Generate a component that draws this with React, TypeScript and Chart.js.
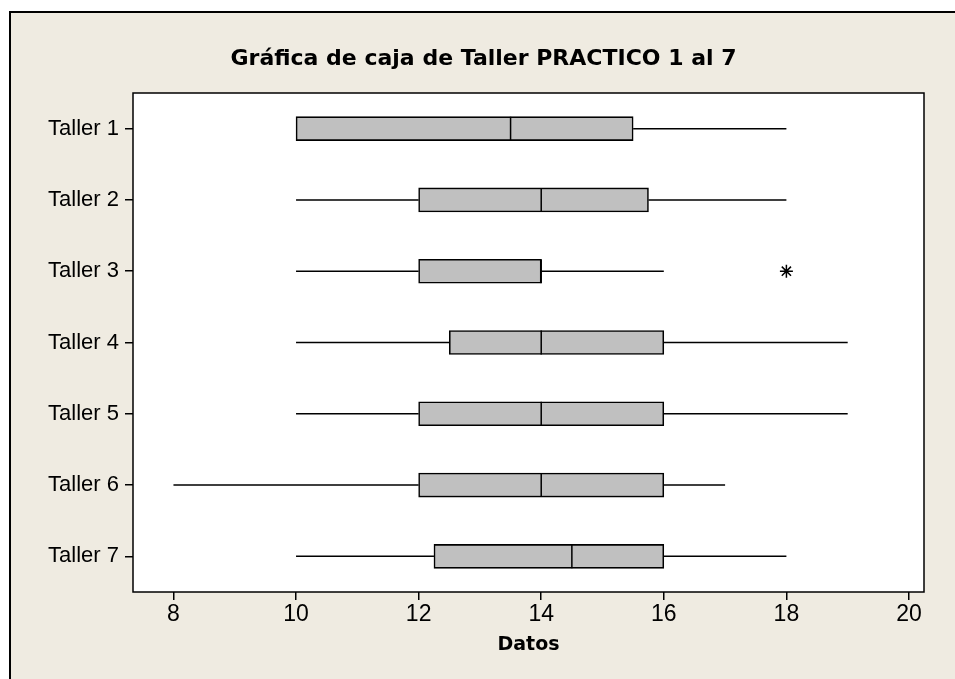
import React, { useEffect, useRef } from 'react';
import { Chart, registerables } from 'chart.js';

Chart.register(...registerables);

const CATEGORIES = ['Taller 1', 'Taller 2', 'Taller 3', 'Taller 4', 'Taller 5', 'Taller 6', 'Taller 7'];
const MINS = [10, 10, 10, 10, 10, 8, 10];
const Q1S = [10, 12, 12, 12.5, 12, 12, 12.25];
const MEDIANS = [13.5, 14, 14, 14, 14, 14, 14.5];
const Q3S = [15.5, 15.75, 14, 16, 16, 16, 16];
const MAXS = [18, 18, 16, 19, 19, 17, 18];
const OUTLIER_CATS = ['Taller 3'];
const OUTLIER_VALUES = [18];
const X_TICKS = [8, 10, 12, 14, 16, 18, 20];
const X_MIN = 7.34;
const X_MAX = 20.245;

const TITLE = 'Gráfica de caja de Taller PRACTICO 1 al 7';
const X_TITLE = 'Datos';
const BG = '#EFEBE1';

const boxPlugin = {
  id: 'boxFrame',
  beforeDraw(chart: any) {
    const { ctx, chartArea } = chart;
    ctx.save();
    ctx.fillStyle = '#ffffff';
    ctx.fillRect(chartArea.left, chartArea.top, chartArea.right - chartArea.left, chartArea.bottom - chartArea.top);
    ctx.restore();
  },
  afterDatasetsDraw(chart: any) {
    const { ctx } = chart;
    const xs = chart.scales.x;
    const ys = chart.scales.y;
    const meta = chart.getDatasetMeta(0);
    ctx.save();
    ctx.strokeStyle = '#000';
    ctx.lineWidth = 1.5;
    for (let i = 0; i < CATEGORIES.length; i++) {
      const y = ys.getPixelForValue(i);
      const el: any = meta.data[i];
      const half = el ? el.height / 2 : 12;
      ctx.beginPath();
      if (MINS[i] < Q1S[i]) {
        ctx.moveTo(xs.getPixelForValue(MINS[i]), y);
        ctx.lineTo(xs.getPixelForValue(Q1S[i]), y);
      }
      if (MAXS[i] > Q3S[i]) {
        ctx.moveTo(xs.getPixelForValue(Q3S[i]), y);
        ctx.lineTo(xs.getPixelForValue(MAXS[i]), y);
      }
      const mx = xs.getPixelForValue(MEDIANS[i]);
      ctx.moveTo(mx, y - half);
      ctx.lineTo(mx, y + half);
      ctx.stroke();
    }
    ctx.restore();
  },
  afterDraw(chart: any) {
    const { ctx, chartArea } = chart;
    ctx.save();
    ctx.strokeStyle = '#000';
    ctx.lineWidth = 1.5;
    ctx.strokeRect(chartArea.left, chartArea.top, chartArea.right - chartArea.left, chartArea.bottom - chartArea.top);
    ctx.restore();
  },
};

export default function App() {
  const ref = useRef<HTMLCanvasElement>(null);

  useEffect(() => {
    if (!ref.current) return;
    const chart = new Chart(ref.current, {
      type: 'bar',
      data: {
        labels: CATEGORIES,
        datasets: [
          {
            type: 'bar',
            data: CATEGORIES.map((_, i) => [Q1S[i], Q3S[i]]) as any,
            backgroundColor: '#C0C0C0',
            borderColor: '#000',
            borderWidth: 1.6,
            borderSkipped: false,
            barThickness: 24,
          } as any,
          {
            type: 'scatter',
            data: OUTLIER_CATS.map((c, i) => ({ x: OUTLIER_VALUES[i], y: c })) as any,
            pointStyle: 'star',
            radius: 6.5,
            borderColor: '#000',
            backgroundColor: '#000',
            borderWidth: 1.5,
          } as any,
        ],
      },
      options: {
        indexAxis: 'y',
        responsive: false,
        animation: false,
        layout: { padding: 0 },
        plugins: {
          legend: { display: false },
          tooltip: { enabled: false },
          title: {
            display: true,
            text: TITLE,
            color: '#000',
            font: { family: '"DejaVu Sans", sans-serif', size: 22, weight: 'bold' },
            padding: { top: 32.3, bottom: 20.3 },
          },
        },
        scales: {
          x: {
            type: 'linear',
            min: X_MIN,
            max: X_MAX,
            afterBuildTicks: (s: any) => {
              s.ticks = X_TICKS.map((v) => ({ value: v }));
            },
            afterFit: (s: any) => {
              s.height = 87;
            },
            border: { display: false },
            grid: { drawOnChartArea: false, drawTicks: true, tickLength: 8, color: '#000', lineWidth: 1.5 },
            ticks: {
              color: '#000',
              padding: 1,
              font: { family: '"Liberation Sans Narrow", "Liberation Sans", sans-serif', size: 23 },
            },
            title: {
              display: true,
              text: X_TITLE,
              color: '#000',
              font: { family: '"DejaVu Sans", sans-serif', size: 19, weight: 'bold' },
              padding: { top: 0, bottom: 22.6 },
            },
          },
          y: {
            type: 'category',
            labels: CATEGORIES,
            offset: true,
            afterFit: (s: any) => {
              s.width = 121;
            },
            border: { display: false },
            grid: { offset: false, drawOnChartArea: false, drawTicks: true, tickLength: 8, color: '#000', lineWidth: 1.5 },
            ticks: {
              color: '#000',
              padding: 6,
              font: { family: '"Liberation Sans", sans-serif', size: 22 },
            },
          },
          rightMargin: {
            type: 'linear',
            position: 'right',
            display: true,
            afterFit: (s: any) => {
              s.width = 31;
            },
            border: { display: false },
            grid: { display: false },
            ticks: { display: false },
          },
        },
      } as any,
      plugins: [boxPlugin],
    });
    return () => chart.destroy();
  }, []);

  return (
    <div style={{ position: 'absolute', left: 0, top: 0, width: 955, height: 679, overflow: 'hidden', background: '#fff' }}>
      <div
        style={{
          position: 'absolute',
          left: 9,
          top: 11,
          width: 1000,
          height: 720,
          border: '2px solid #000',
          background: BG,
          boxSizing: 'border-box',
        }}
      />
      <div style={{ position: 'absolute', left: 12, top: 14, width: 943, height: 665 }}>
        <canvas ref={ref} width={943} height={665} style={{ display: 'block' }} />
      </div>
    </div>
  );
}
